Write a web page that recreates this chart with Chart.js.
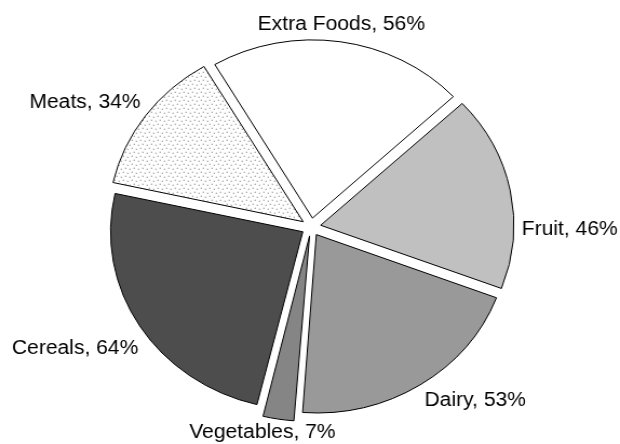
<!DOCTYPE html>
<html>
<head>
<meta charset="utf-8">
<script src="https://cdn.jsdelivr.net/npm/chart.js@4.4.1/dist/chart.umd.min.js"></script>
<style>
  html, body { margin: 0; padding: 0; background: #fff; }
</style>
</head>
<body>
<!-- the original figure is stretched sideways a little, so the canvas is too -->
<canvas id="chart" width="574" height="444" style="width:620px;height:444px"></canvas>
<script>
const categories = ["Extra Foods", "Fruit", "Dairy", "Vegetables", "Cereals", "Meats"];
const percentages = [56, 46, 53, 7, 64, 34];

const sliceColors = ["#ffffff", "#c0c0c0", "#999999", "#858585", "#4d4d4d", null];
// labels in the original sit a bit off the slice middle
const labelNudge = [0, 12, 0, 4, -3, 0];
const labelGap = [8, 8, 8, 14, 8, 8];

const canvas = document.getElementById("chart");

function dotPattern() {
  const tile = document.createElement("canvas");
  tile.width = 8;
  tile.height = 8;
  const t = tile.getContext("2d");
  t.fillStyle = "#fff";
  t.fillRect(0, 0, 8, 8);
  t.fillStyle = "#6a6a6a";
  [[1, 1], [5, 2], [3, 5], [7, 6]].forEach(([x, y]) => t.fillRect(x, y, 1, 1));
  return canvas.getContext("2d").createPattern(tile, "repeat");
}

const sliceLabels = {
  id: "sliceLabels",
  afterDatasetsDraw(chart) {
    const ctx = chart.ctx;
    const meta = chart.getDatasetMeta(0);
    ctx.save();
    ctx.font = "19.5px 'Liberation Sans', Arial, sans-serif";
    ctx.fillStyle = "#000";
    meta.data.forEach((arc, i) => {
      // chart.js moves a slice by a quarter of its offset option
      const offset = (arc.options.offset || 0) / 4;
      const mid = (arc.startAngle + arc.endAngle) / 2 + labelNudge[i] * Math.PI / 180;
      const r = arc.outerRadius + offset + labelGap[i];
      const dx = Math.cos(mid);
      const dy = Math.sin(mid);
      ctx.textAlign = dx > 0.3 ? "left" : dx < -0.3 ? "right" : "center";
      ctx.textBaseline = dy > 0.3 ? "top" : dy < -0.3 ? "bottom" : "middle";
      ctx.fillText(categories[i] + ", " + percentages[i] + "%", arc.x + r * dx, arc.y + r * dy);
    });
    ctx.restore();
  }
};

new Chart(canvas, {
  type: "pie",
  data: {
    labels: categories,
    datasets: [{
      data: percentages,
      backgroundColor: sliceColors.map((c) => c || dotPattern()),
      borderColor: "#000",
      borderWidth: 1,
      offset: 36,
      hoverOffset: 0
    }]
  },
  options: {
    responsive: false,
    devicePixelRatio: 1,
    animation: false,
    rotation: -30.5,
    radius: 178,
    layout: { padding: { top: 10, left: 2 } },
    plugins: {
      legend: { display: false },
      tooltip: { enabled: false }
    }
  },
  plugins: [sliceLabels]
});
</script>
</body>
</html>
